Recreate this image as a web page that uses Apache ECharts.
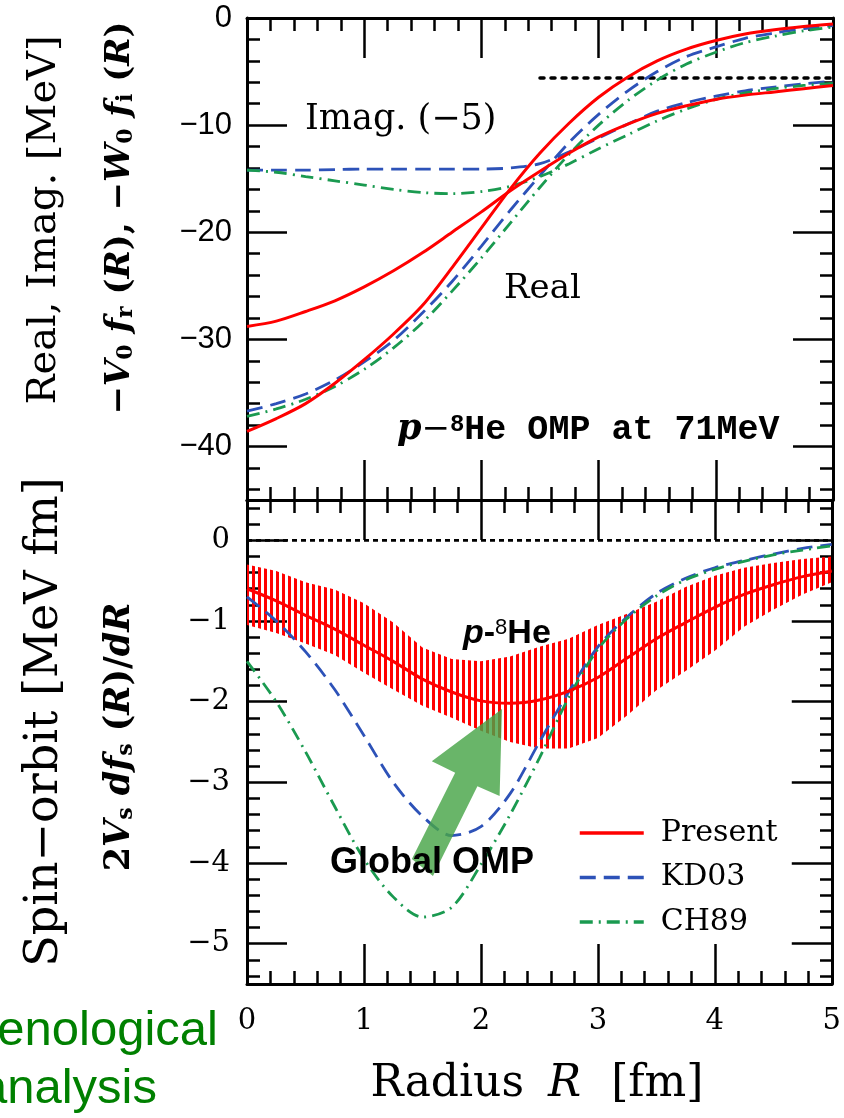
<!DOCTYPE html>
<html>
<head>
<meta charset="utf-8">
<title>p-8He OMP at 71 MeV</title>
<script src="https://cdn.jsdelivr.net/npm/echarts@6.0.0/dist/echarts.min.js"></script>
<style>
  html, body { margin: 0; padding: 0; background: #fff; }
  #main { width: 844px; height: 1118px; }
</style>
</head>
<body>
<div id="main"></div>
<script>
// radius points (fm)
var radius = [0, 0.25, 0.5, 0.75, 1, 1.25, 1.5, 1.75, 2, 2.25, 2.5, 2.75, 3, 3.25, 3.5, 3.75, 4, 4.25, 4.5, 4.75, 5];

// upper panel (MeV): real part, imaginary part shifted by -5
var presentReal = [-38.6, -37.4, -36.0, -34.1, -31.9, -29.5, -26.8, -23.3, -19.6, -15.9, -12.6, -9.8, -7.4, -5.5, -4.0, -2.9, -2.1, -1.5, -1.1, -0.8, -0.56];
var presentImag = [-28.8, -28.3, -27.4, -26.4, -25.1, -23.6, -21.9, -20.0, -18.1, -16.1, -14.3, -12.6, -11.1, -9.9, -8.9, -8.2, -7.6, -7.2, -6.9, -6.6, -6.3];
var kd03Real = [-36.7, -36.0, -35.1, -33.8, -32.1, -30.1, -27.5, -24.6, -21.3, -17.9, -14.7, -11.6, -9.0, -6.8, -5.0, -3.6, -2.7, -1.9, -1.4, -1.0, -0.7];
var kd03Imag = [-14.2, -14.2, -14.2, -14.15, -14.1, -14.1, -14.1, -14.1, -14.1, -14.0, -13.6, -12.5, -11.2, -9.9, -8.7, -7.9, -7.3, -6.8, -6.45, -6.15, -5.9];
var ch89Real = [-37.2, -36.5, -35.6, -34.4, -32.8, -30.8, -28.4, -25.5, -22.4, -19.1, -15.8, -12.7, -10.0, -7.7, -5.8, -4.3, -3.2, -2.3, -1.7, -1.2, -0.85];
var ch89Imag = [-14.2, -14.4, -14.8, -15.2, -15.6, -16.0, -16.3, -16.4, -16.2, -15.7, -14.8, -13.6, -12.2, -10.9, -9.6, -8.5, -7.6, -7.0, -6.6, -6.3, -6.1];
var imagZeroR = [2.5, 5];
var imagZeroV = -5.6;

// lower panel (MeV fm): spin-orbit
var presentSO = [-0.6, -0.75, -0.93, -1.1, -1.3, -1.5, -1.72, -1.88, -1.99, -2.02, -1.98, -1.87, -1.7, -1.46, -1.22, -1.02, -0.83, -0.67, -0.55, -0.45, -0.38];
var presentSOUpper = [-0.3, -0.38, -0.52, -0.61, -0.78, -1.02, -1.33, -1.47, -1.5, -1.44, -1.32, -1.22, -1.05, -0.91, -0.76, -0.58, -0.44, -0.34, -0.28, -0.23, -0.2];
var presentSOLower = [-1.05, -1.15, -1.28, -1.42, -1.64, -1.85, -2.05, -2.2, -2.36, -2.5, -2.58, -2.58, -2.45, -2.17, -1.86, -1.62, -1.37, -1.07, -0.86, -0.67, -0.52];
var kd03SO = [-0.7, -1.0, -1.38, -1.85, -2.42, -3.0, -3.42, -3.66, -3.55, -3.14, -2.5, -1.88, -1.32, -0.95, -0.66, -0.47, -0.34, -0.25, -0.17, -0.1, -0.05];
var ch89SO = [-1.5, -2.0, -2.62, -3.3, -3.95, -4.42, -4.67, -4.55, -4.02, -3.4, -2.7, -1.95, -1.35, -0.97, -0.69, -0.49, -0.36, -0.26, -0.18, -0.12, -0.07];
var soZeroR = [0, 5];

// green arrow outline in lower panel (R, value)
var arrowR = [2.18, 2.16, 1.97, 1.59, 1.41, 1.78, 1.58];
var arrowV = [-2.09, -3.17, -3.05, -4.16, -3.95, -2.88, -2.74];

// ticks
var xTicks = [0, 1, 2, 3, 4, 5];
var topTicks = [-40, -30, -20, -10, 0];
var topMinor = [-44, -42, -38, -36, -34, -32, -28, -26, -24, -22, -18, -16, -14, -12, -8, -6, -4, -2];
var botTicks = [-5, -4, -3, -2, -1, 0];
var botMinor = [-5.4, -5.2, -4.8, -4.6, -4.4, -4.2, -3.8, -3.6, -3.4, -3.2, -2.8, -2.6, -2.4, -2.2, -1.8, -1.6, -1.4, -1.2, -0.8, -0.6, -0.4, -0.2, 0.2, 0.4];

var RED = '#ff0000', BLUE = '#2d52b8', GREEN = '#1a9a50';
var KD_DASH = [16, 8], CH_DASH = [13, 6, 2, 6];

function pairs(ys) {
    return radius.map(function (r, i) { return [r, ys[i]]; });
}
function minus(v) {
    return String(v).replace('-', '\u2212');
}

// vertical red hatching for the error band
var hatch = document.createElement('canvas');
hatch.width = 6;
hatch.height = 6;
var hctx = hatch.getContext('2d');
hctx.fillStyle = RED;
hctx.fillRect(0, 0, 3, 6);

function xAx(g, pos, labels) {
    return {
        type: 'value', gridIndex: g, position: pos, min: 0, max: 5, interval: 1,
        axisLine: { show: true, onZero: false, lineStyle: { color: '#000', width: 3 } },
        axisTick: { show: true, inside: true, length: 40, lineStyle: { color: '#000', width: 2.5 } },
        minorTick: { show: true, splitNumber: 5, length: 13, lineStyle: { color: '#000', width: 2.5 } },
        splitLine: { show: false },
        axisLabel: {
            show: labels, customValues: xTicks, margin: 23, color: '#000',
            fontFamily: 'DejaVu Serif', fontSize: 29, formatter: minus
        }
    };
}
function yMajor(g, pos, min, max, ticks, label) {
    return {
        type: 'value', gridIndex: g, position: pos, min: min, max: max,
        axisLine: { show: true, onZero: false, lineStyle: { color: '#000', width: 3 } },
        axisTick: { show: true, inside: true, length: 40, customValues: ticks, lineStyle: { color: '#000', width: 2.5 } },
        splitLine: { show: false },
        axisLabel: label ? Object.assign({ show: true, customValues: ticks, formatter: minus, color: '#000' }, label) : { show: false }
    };
}
function yMinor(g, pos, min, max, ticks) {
    return {
        type: 'value', gridIndex: g, position: pos, min: min, max: max,
        axisLine: { show: false },
        axisTick: { show: true, inside: true, length: 13, customValues: ticks, lineStyle: { color: '#000', width: 2.5 } },
        axisLabel: { show: false },
        splitLine: { show: false }
    };
}
function curve(name, ys, color, width, dash, xi, yi) {
    return {
        type: 'line', name: name, data: pairs(ys), xAxisIndex: xi, yAxisIndex: yi,
        symbol: 'none', smooth: 0.3, clip: true, z: 3,
        itemStyle: { color: color },
        lineStyle: { color: color, width: width, type: dash }
    };
}

var myChart = echarts.init(document.getElementById('main'));

var option = {
    animation: false,
    backgroundColor: '#fff',
    grid: [
        { left: 247, top: 18, width: 586, height: 482 },
        { left: 247, top: 500, width: 586, height: 484 },
        { left: 247, top: 18, width: 586, height: 482 },
        { left: 247, top: 500, width: 586, height: 484 }
    ],
    xAxis: [
        xAx(0, 'bottom', false), xAx(0, 'top', false),
        xAx(1, 'bottom', true), xAx(1, 'top', false),
        { type: 'value', gridIndex: 2, min: 0, max: 5, show: false },
        { type: 'value', gridIndex: 3, min: 0, max: 5, show: false }
    ],
    yAxis: [
        yMajor(0, 'left', -45, 0, topTicks, { fontFamily: 'Liberation Sans', fontSize: 31, margin: 15 }),
        yMajor(0, 'right', -45, 0, topTicks, null),
        yMajor(1, 'left', -5.5, 0.5, botTicks, { fontFamily: 'DejaVu Serif', fontSize: 29, margin: 17 }),
        yMajor(1, 'right', -5.5, 0.5, botTicks, null),
        yMinor(2, 'left', -45, 0, topMinor),
        yMinor(2, 'right', -45, 0, topMinor),
        yMinor(3, 'left', -5.5, 0.5, botMinor),
        yMinor(3, 'right', -5.5, 0.5, botMinor)
    ],
    legend: {
        data: ['Present', 'KD03', 'CH89'],
        orient: 'vertical', left: 573, top: 813,
        itemWidth: 64, itemHeight: 34, itemGap: 14.5,
        selectedMode: false,
        itemStyle: { opacity: 0 },
        lineStyle: { width: 3.5 },
        textStyle: { fontFamily: 'DejaVu Serif', fontSize: 30, color: '#000', padding: [0, 0, 0, 12] }
    },
    series: [
        // upper panel
        curve('KD03', kd03Real, BLUE, 2.8, KD_DASH, 0, 0),
        curve('KD03', kd03Imag, BLUE, 2.8, KD_DASH, 0, 0),
        curve('CH89', ch89Real, GREEN, 2.8, CH_DASH, 0, 0),
        curve('CH89', ch89Imag, GREEN, 2.8, CH_DASH, 0, 0),
        curve('Present', presentReal, RED, 3, 'solid', 0, 0),
        curve('Present', presentImag, RED, 3, 'solid', 0, 0),
        {
            type: 'line', name: 'imagZero', xAxisIndex: 0, yAxisIndex: 0, symbol: 'none', z: 2,
            data: imagZeroR.map(function (r) { return [r, imagZeroV]; }),
            lineStyle: { color: '#000', width: 3.5, type: [4, 7], cap: 'round' }
        },
        // lower panel
        {
            type: 'line', name: 'soZero', xAxisIndex: 2, yAxisIndex: 2, symbol: 'none', z: 2,
            data: soZeroR.map(function (r) { return [r, 0]; }),
            lineStyle: { color: '#000', width: 2.7, type: [5, 4] }
        },
        {
            // hatched error band of the present spin-orbit potential
            type: 'custom', name: 'band', xAxisIndex: 2, yAxisIndex: 2, z: 2, silent: true,
            data: [[0, 0]],
            renderItem: function (params, api) {
                var pts = [];
                radius.forEach(function (r, i) { pts.push(api.coord([r, presentSOUpper[i]])); });
                for (var i = radius.length - 1; i >= 0; i--) {
                    pts.push(api.coord([radius[i], presentSOLower[i]]));
                }
                return {
                    type: 'polygon', shape: { points: pts },
                    style: { fill: { image: hatch, repeat: 'repeat' } }
                };
            }
        },
        curve('KD03', kd03SO, BLUE, 2.8, KD_DASH, 2, 2),
        curve('CH89', ch89SO, GREEN, 2.8, CH_DASH, 2, 2),
        curve('Present', presentSO, RED, 3, 'solid', 2, 2),
        {
            type: 'custom', name: 'arrow', xAxisIndex: 2, yAxisIndex: 2, z: 6, silent: true,
            data: [[0, 0]],
            renderItem: function (params, api) {
                var pts = arrowR.map(function (r, i) { return api.coord([r, arrowV[i]]); });
                return { type: 'polygon', shape: { points: pts }, style: { fill: 'rgba(72,165,72,0.82)' } };
            }
        }
    ],
    graphic: [
        { type: 'text', z: 100, x: 305, y: 120,
          style: { text: 'Imag. (\u22125)', fontFamily: 'DejaVu Serif', fontSize: 35, fill: '#000', align: 'left', verticalAlign: 'middle' } },
        { type: 'text', z: 100, x: 504, y: 289,
          style: { text: 'Real', fontFamily: 'DejaVu Serif', fontSize: 34, fill: '#000', align: 'left', verticalAlign: 'middle' } },
        { type: 'text', z: 100, x: 397, y: 430,
          style: {
              text: '{p|p}{m|\u2212}{s|8}{t|He OMP at 71MeV}', align: 'left', verticalAlign: 'middle',
              rich: {
                  p: { fontFamily: 'DejaVu Serif', fontStyle: 'italic', fontWeight: 'bold', fontSize: 35, fill: '#000' },
                  m: { fontFamily: 'DejaVu Serif', fontSize: 34, fill: '#000' },
                  s: { fontFamily: 'Liberation Mono', fontWeight: 'bold', fontSize: 24, fill: '#000', verticalAlign: 'top' },
                  t: { fontFamily: 'Liberation Mono', fontWeight: 'bold', fontSize: 35, fill: '#000' }
              }
          } },
        { type: 'text', z: 100, x: 463, y: 634,
          style: {
              text: '{p|p}{h|-}{s|8}{h|He}', align: 'left', verticalAlign: 'middle',
              rich: {
                  p: { fontFamily: 'Liberation Sans', fontStyle: 'italic', fontWeight: 'bold', fontSize: 34, fill: '#000' },
                  h: { fontFamily: 'Liberation Sans', fontWeight: 'bold', fontSize: 34, fill: '#000' },
                  s: { fontFamily: 'Liberation Sans', fontSize: 22, fill: '#000', verticalAlign: 'top' }
              }
          } },
        { type: 'text', z: 100, x: 330, y: 863,
          style: { text: 'Global OMP', fontFamily: 'Liberation Sans', fontWeight: 'bold', fontSize: 36, fill: '#000', align: 'left', verticalAlign: 'middle' } },
        // axis titles
        { type: 'text', z: 100, x: 45, y: 220, rotation: Math.PI / 2,
          style: { text: 'Real, Imag. [MeV]', fontFamily: 'DejaVu Serif', fontSize: 40, fill: '#000', align: 'center', verticalAlign: 'middle' } },
        { type: 'text', z: 100, x: 120, y: 218, rotation: Math.PI / 2,
          style: {
              text: '{n|\u2212}{m|V}{s|0}{m| f}{s|r}{n| (}{m|R}{n|), \u2212}{m|W}{s|0}{m| f}{s|i}{n| (}{m|R}{n|)}',
              align: 'center', verticalAlign: 'middle',
              rich: {
                  m: { fontFamily: 'DejaVu Serif', fontStyle: 'italic', fontWeight: 'bold', fontSize: 34, fill: '#000' },
                  n: { fontFamily: 'DejaVu Serif', fontWeight: 'bold', fontSize: 34, fill: '#000' },
                  s: { fontFamily: 'DejaVu Serif', fontWeight: 'bold', fontSize: 22, fill: '#000', verticalAlign: 'bottom' }
              }
          } },
        { type: 'text', z: 100, x: 45, y: 722, rotation: Math.PI / 2,
          style: { text: 'Spin\u2212orbit [MeV fm]', fontFamily: 'DejaVu Serif', fontSize: 46, fill: '#000', align: 'center', verticalAlign: 'middle' } },
        { type: 'text', z: 100, x: 120, y: 737, rotation: Math.PI / 2,
          style: {
              text: '{n|2}{m|V}{s|s}{m| df}{s|s}{n| (}{m|R}{n|)/}{m|dR}',
              align: 'center', verticalAlign: 'middle',
              rich: {
                  m: { fontFamily: 'DejaVu Serif', fontStyle: 'italic', fontWeight: 'bold', fontSize: 35, fill: '#000' },
                  n: { fontFamily: 'DejaVu Serif', fontWeight: 'bold', fontSize: 35, fill: '#000' },
                  s: { fontFamily: 'DejaVu Serif', fontWeight: 'bold', fontSize: 22, fill: '#000', verticalAlign: 'bottom' }
              }
          } },
        { type: 'text', z: 100, x: 537, y: 1085,
          style: {
              text: '{n|Radius}{i|R}{n|[fm]}', align: 'center', verticalAlign: 'middle',
              rich: {
                  n: { fontFamily: 'DejaVu Serif', fontSize: 44, fill: '#000' },
                  i: { fontFamily: 'DejaVu Serif', fontStyle: 'italic', fontSize: 44, fill: '#000', padding: [0, 30, 0, 24] }
              }
          } },
        // cropped caption from the slide
        { type: 'text', z: 100, x: 218, y: 1031,
          style: { text: 'Phenomenological', fontFamily: 'Liberation Sans', fontSize: 49, fill: '#008000', align: 'right', verticalAlign: 'middle' } },
        { type: 'text', z: 100, x: 157, y: 1089,
          style: { text: 'analysis', fontFamily: 'Liberation Sans', fontSize: 49, fill: '#008000', align: 'right', verticalAlign: 'middle' } }
    ]
};

myChart.setOption(option);
window.addEventListener('resize', function () {
    myChart.resize();
});
</script>
</body>
</html>
